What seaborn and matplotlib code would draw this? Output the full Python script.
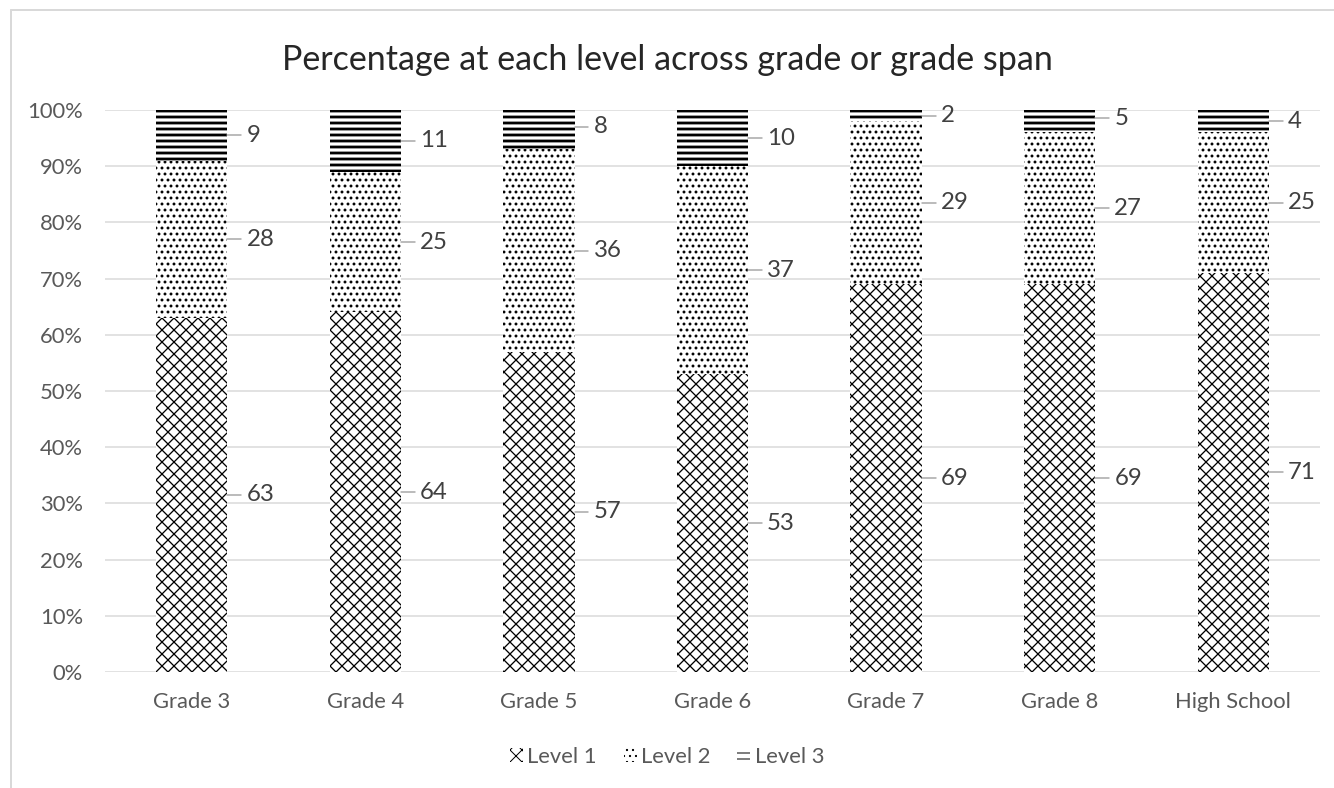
import numpy as np
import pandas as pd
import matplotlib
matplotlib.use("Agg")
import matplotlib.pyplot as plt
from matplotlib.patches import Patch
from matplotlib.lines import Line2D
import seaborn as sns

# Datos del grafico
grades = ["Grade 3", "Grade 4", "Grade 5", "Grade 6", "Grade 7", "Grade 8", "High School"]
level1 = [63, 64, 57, 53, 69, 69, 71]
level2 = [28, 25, 36, 37, 29, 27, 25]
level3 = [9, 11, 8, 10, 2, 5, 4]
level_names = ["Level 1", "Level 2", "Level 3"]

df = pd.DataFrame({"grade": grades, "l1": level1, "l2": level2, "l3": level3})
df["cum2"] = df["l1"] + df["l2"]
df["cum3"] = df["cum2"] + df["l3"]

sns.set_theme(style="white")
plt.rcParams["font.family"] = ["Lato", "DejaVu Sans"]

DPI = 72
fig = plt.figure(figsize=(1334 / DPI, 788 / DPI), dpi=DPI)
ax = fig.add_axes([105 / 1334, 1 - 672 / 788, (1320 - 105) / 1334, (672 - 110) / 788])

bar_w = 0.41
hatches = {"l1": "xx", "l2": "..", "l3": "--"}
hatch_lw = {"l1": 1.3, "l2": 1.7, "l3": 2.8}

# Barras apiladas: se dibuja el total y se tapa por capas
for col, level in [("cum3", "l3"), ("cum2", "l2"), ("l1", "l1")]:
    with plt.rc_context({"hatch.linewidth": hatch_lw[level], "hatch.color": "black"}):
        sns.barplot(data=df, x="grade", y=col, color="white", saturation=1,
                    width=bar_w, edgecolor="black", linewidth=0,
                    hatch=hatches[level], ax=ax)

ax.set_ylim(0, 100)
ax.set_yticks(np.arange(0, 101, 10))
ax.set_yticklabels([f"{v}%" for v in range(0, 101, 10)])
ax.set_xlabel("")
ax.set_ylabel("")
ax.grid(axis="y", color="#d9d9d9", linewidth=1.5)
ax.set_axisbelow(True)
for s in ax.spines.values():
    s.set_visible(False)
ax.tick_params(axis="both", length=0, labelsize=22, colors="#595959")
ax.tick_params(axis="y", pad=22)
ax.tick_params(axis="x", pad=20)

# Etiquetas de datos con linea guia
label_color = "#404040"
for i in range(len(grades)):
    bottoms = [0, level1[i], level1[i] + level2[i]]
    vals = [level1[i], level2[i], level3[i]]
    for b, v in zip(bottoms, vals):
        yc = min(b + v / 2, 99)
        x0 = i + bar_w / 2
        ax.add_line(Line2D([x0, x0 + 0.08], [yc, yc], color="#a6a6a6", lw=1.5))
        ax.text(x0 + 0.11, yc, str(v), va="center", ha="left", fontsize=24, color=label_color)

fig.suptitle("Percentage at each level across grade or grade span", y=1 - 60 / 788,
             va="center", fontsize=34, color="#262626")

handles = []
for k in ["l1", "l2", "l3"]:
    with plt.rc_context({"hatch.linewidth": hatch_lw[k]}):
        handles.append(Patch(facecolor="white", edgecolor="black", linewidth=0, hatch=hatches[k]))
fig.legend(handles, level_names, loc="center", bbox_to_anchor=(0.5, 1 - 757 / 788),
           ncol=3, frameon=False, fontsize=22, handlelength=0.6, handleheight=0.6,
           handletextpad=0.2, columnspacing=1.2, labelcolor="#595959")

# Marco del grafico
fig.add_artist(Line2D([11 / 1334, 11 / 1334], [0, 1 - 10 / 788], color="#d9d9d9", lw=2,
                      transform=fig.transFigure))
fig.add_artist(Line2D([11 / 1334, 1], [1 - 10 / 788, 1 - 10 / 788], color="#d9d9d9", lw=2,
                      transform=fig.transFigure))

fig.savefig("out.png", dpi=DPI, facecolor="white")
